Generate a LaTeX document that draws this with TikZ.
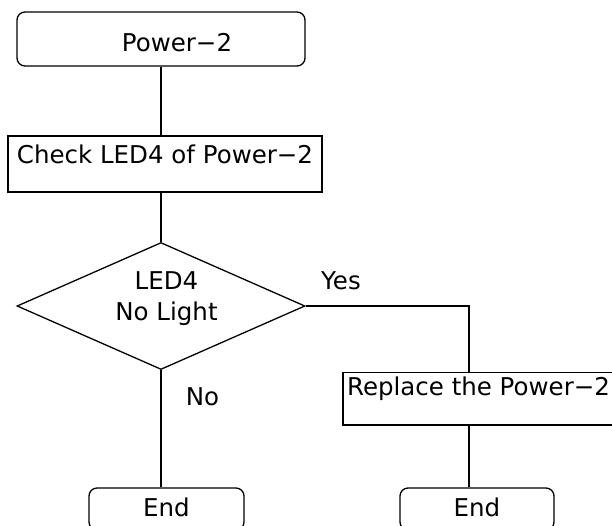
\documentclass[tikz,border=0pt]{standalone}
\usepackage{fontspec}
\setmainfont{DejaVu Sans}
\usepackage{tikz}
\usetikzlibrary{shapes.geometric}
\tikzset{
    terminal/.style={draw, rounded corners=8pt, line width=1.3pt, inner sep=0pt},
    process/.style={draw, line width=1.3pt, inner sep=0pt},
    decision/.style={diamond, draw, line width=1.3pt, inner sep=0pt},
    flowline/.style={line width=1.3pt}
}

\begin{document}
\begin{tikzpicture}[x=1pt, y=-1pt, font=\fontsize{24.5}{31}\selectfont]
    \clip (0,0) rectangle (612,525);
    \node[terminal, minimum width=288pt, minimum height=54pt, text height=25.9pt] (start) at (161,39) {\hspace*{32pt}Power−2};
    \node[process, minimum width=314pt, minimum height=56pt, text depth=19.6pt] (check) at (165,164) {Check LED4 of Power−2};
    \node[decision, minimum width=288pt, minimum height=127pt,
          label={[xshift=5.5pt, yshift=7pt, align=center]center:LED4\\No Light}] (decide) at (161,306) {};
    \node[process, minimum width=271pt, minimum height=52.7pt, text depth=26pt] (repl) at (478.5,398.7) {Replace the Power−2};
    \node[terminal, minimum width=155pt, minimum height=42pt, text depth=4pt] (endL) at (166.5,509) {End};
    \node[terminal, minimum width=154pt, minimum height=42pt, text depth=4pt] (endR) at (477,509) {End};
    \coordinate (bend) at (469,306);
    \draw[flowline] (start.south) -- (start.south |- check.north);
    \draw[flowline] (decide.north |- check.south) -- (decide.north);
    \draw[flowline] (decide.east) -- (bend) -- (bend |- repl.north);
    \draw[flowline] (decide.south) -- (decide.south |- endL.north);
    \draw[flowline] (bend |- repl.south) -- (bend |- endR.north);
    \node (yes) at (341,281) {Yes};
    \node (no) at (202.5,397) {No};
\end{tikzpicture}
\end{document}
